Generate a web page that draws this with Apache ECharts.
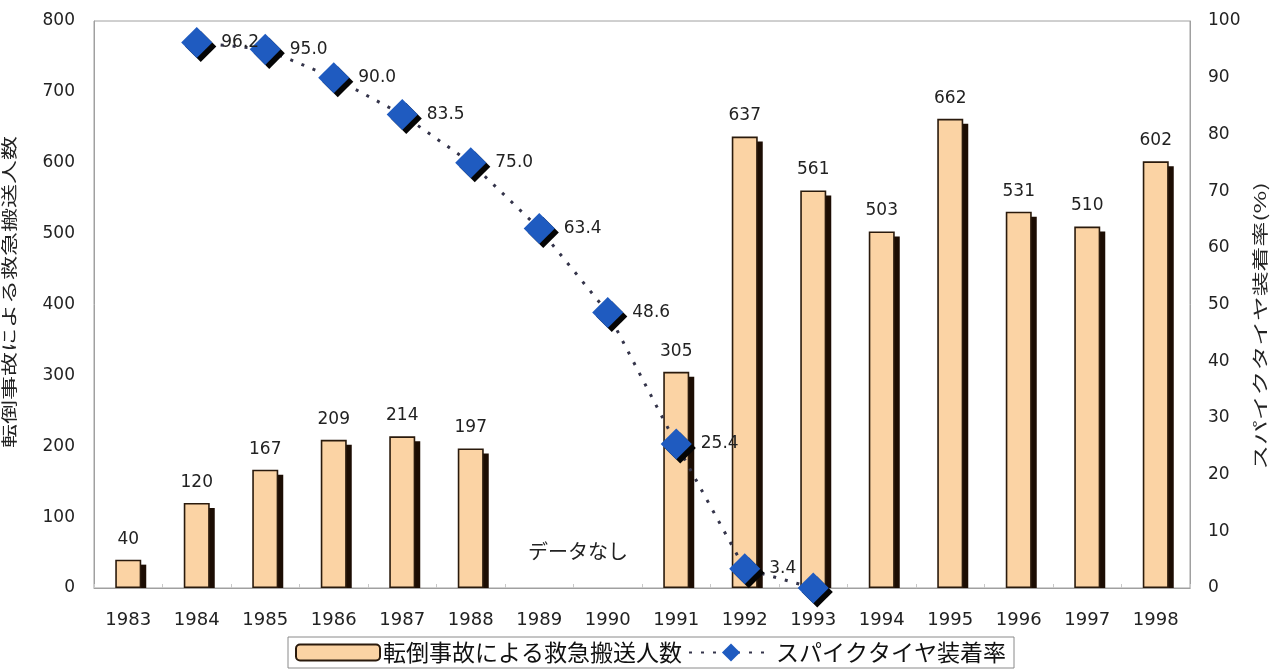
<!DOCTYPE html>
<html>
<head>
<meta charset="utf-8">
<script src="https://cdn.jsdelivr.net/npm/echarts@6/dist/echarts.min.js"></script>
<style>
  html, body { margin: 0; padding: 0; background: #fff; }
  #chart { width: 1285px; height: 671px; }
</style>
</head>
<body>
<div id="chart"></div>
<script>
// Years on the category axis
const years = ['1983','1984','1985','1986','1987','1988','1989','1990','1991','1992','1993','1994','1995','1996','1997','1998'];
// Emergency transports caused by falls (people); 1989-1990 have no data
const transports = [40, 120, 167, 209, 214, 197, null, null, 305, 637, 561, 503, 662, 531, 510, 602];
// Studded tyre fitting rate (%)
const studRate = [null, 96.2, 95.0, 90.0, 83.5, 75.0, 63.4, 48.6, 25.4, 3.4, 0, null, null, null, null, null];

const barName = '転倒事故による救急搬送人数';
const lineName = 'スパイクタイヤ装着率';
const rightAxisName = 'スパイクタイヤ装着率(%)';
const noDataText = 'データなし';

const numFont = '"DejaVu Sans", "Noto Sans CJK JP", sans-serif';
const jpFont = '"Noto Sans CJK JP", sans-serif';
const BAR_W = 26;

// [categoryIndex, value] pairs for the drop shadow behind each bar
const shadowData = transports.map((v, i) => [i, v]).filter(d => d[1] !== null);

const chart = echarts.init(document.getElementById('chart'));
chart.setOption({
  animation: false,
  backgroundColor: '#fff',
  textStyle: { fontFamily: numFont, color: '#222' },
  grid: {
    left: 94, right: 95, top: 21, bottom: 83,
    show: true, borderColor: '#a0a0a0', borderWidth: 1, backgroundColor: '#fff'
  },
  legend: {
    left: 288, top: 637,
    itemWidth: 84, itemHeight: 16, itemGap: 6,
    padding: [4, 8, 4, 7],
    borderColor: '#8a8a8a', borderWidth: 1,
    textStyle: { fontFamily: jpFont, fontSize: 23, color: '#111', padding: [0, 0, 0, -2] },
    data: [barName, lineName]
  },
  xAxis: {
    type: 'category',
    data: years,
    axisLine: { lineStyle: { color: '#a0a0a0', width: 1 } },
    axisTick: { show: true, inside: true, length: 4, lineStyle: { color: '#c8c8c8' } },
    axisLabel: { fontSize: 18, color: '#222', margin: 23, fontFamily: numFont }
  },
  yAxis: [
    {
      type: 'value', min: 0, max: 800, interval: 100,
      axisLine: { show: true, lineStyle: { color: '#a0a0a0' } },
      axisTick: { show: false },
      splitLine: { show: false },
      axisLabel: { fontSize: 17, color: '#222', margin: 19, fontFamily: numFont }
    },
    {
      type: 'value', min: 0, max: 100, interval: 10,
      axisLine: { show: true, lineStyle: { color: '#a0a0a0' } },
      axisTick: { show: false },
      splitLine: { show: false },
      axisLabel: { fontSize: 17, color: '#222', margin: 18, fontFamily: numFont }
    }
  ],
  series: [
    {
      // dark drop shadow cast by each bar
      name: 'barShadow',
      type: 'custom',
      yAxisIndex: 0,
      data: shadowData,
      silent: true,
      z: 1,
      renderItem: (params, api) => {
        const top = api.coord([api.value(0), api.value(1)]);
        const base = api.coord([api.value(0), 0]);
        return {
          type: 'rect',
          shape: { x: top[0] - BAR_W / 2 + 5, y: top[1] + 5, width: BAR_W, height: base[1] - top[1] - 5 },
          style: { fill: '#1c0d03' }
        };
      }
    },
    {
      name: barName,
      type: 'bar',
      yAxisIndex: 0,
      data: transports,
      barWidth: BAR_W,
      itemStyle: { color: '#FBD3A4', borderColor: '#2a1a0c', borderWidth: 1.6 },
      label: {
        show: true, position: 'top', distance: 12,
        fontSize: 17, color: '#222', fontFamily: numFont
      },
      z: 2
    },
    {
      name: lineName,
      type: 'line',
      yAxisIndex: 1,
      data: studRate,
      connectNulls: false,
      symbol: 'rect',
      symbolRotate: 45,
      symbolSize: 22,
      lineStyle: { color: '#34344a', width: 3, type: [3, 9] },
      itemStyle: {
        color: '#1F5BC0', borderWidth: 0,
        shadowColor: '#050505', shadowBlur: 0, shadowOffsetX: 4, shadowOffsetY: 4
      },
      label: {
        show: true, position: 'right', distance: 9,
        fontSize: 17, color: '#222', fontFamily: numFont,
        formatter: p => (p.value === null || p.value === 0) ? '' : p.value.toFixed(1)
      },
      z: 5
    }
  ],
  graphic: [
    {
      // left axis title, stretched along its reading direction
      type: 'text', x: 9, y: 292, rotation: Math.PI / 2, scaleX: 1.5,
      style: { text: barName, fontFamily: jpFont, fontSize: 16, fill: '#222', align: 'center', verticalAlign: 'middle' }
    },
    {
      // right axis title
      type: 'text', x: 1260, y: 326, rotation: Math.PI / 2, scaleX: 1.55,
      style: { text: rightAxisName, fontFamily: jpFont, fontSize: 16, fill: '#222', align: 'center', verticalAlign: 'middle' }
    },
    {
      type: 'text', left: 528, top: 541,
      style: { text: noDataText, fontFamily: jpFont, fontSize: 20, fill: '#222' }
    }
  ]
});
</script>
</body>
</html>
